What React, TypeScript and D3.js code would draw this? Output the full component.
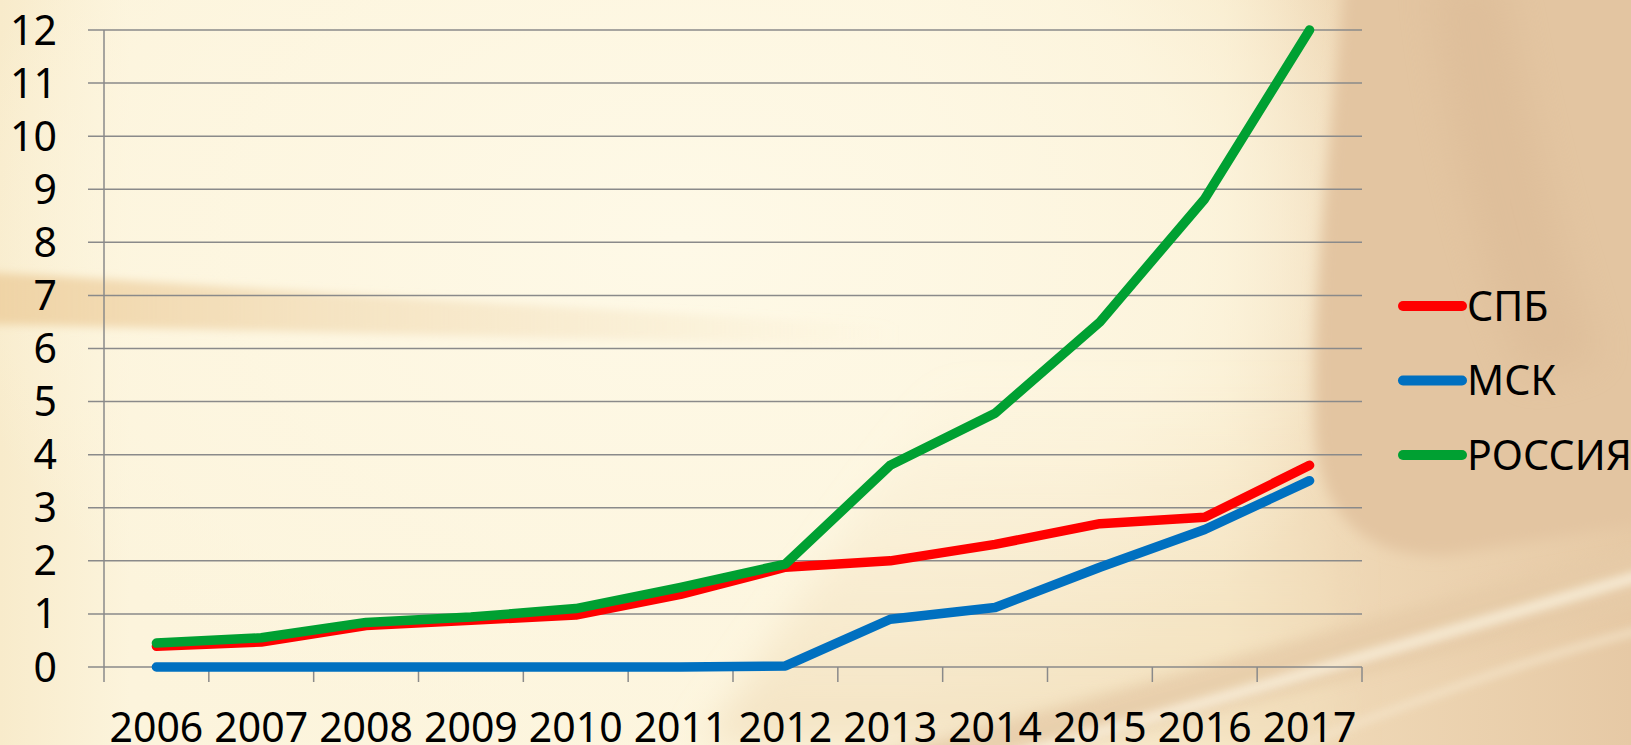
import React from "react";
import * as d3 from "d3";

// chart data
const years = ["2006", "2007", "2008", "2009", "2010", "2011", "2012", "2013", "2014", "2015", "2016", "2017"];
const spbValues = [0.39, 0.47, 0.78, 0.88, 0.98, 1.37, 1.88, 2.0, 2.31, 2.7, 2.82, 3.8];
const mskValues = [0, 0, 0, 0, 0, 0, 0.02, 0.9, 1.12, 1.88, 2.59, 3.51];
const russiaValues = [0.45, 0.55, 0.84, 0.94, 1.1, 1.5, 1.94, 3.8, 4.78, 6.5, 8.82, 12];
const yTicks = [0, 1, 2, 3, 4, 5, 6, 7, 8, 9, 10, 11, 12];
const seriesNames = ["СПБ", "МСК", "РОССИЯ"];
const seriesColors = ["#FF0000", "#0070C0", "#00A032"];

const W = 1631;
const H = 745;
const FONT = "'Noto Sans', sans-serif";

export default function App() {
  const x = d3.scaleBand<string>().domain(years).range([104, 1362]);
  const y = d3.scaleLinear().domain([0, 12]).range([667, 30]);

  const series = [spbValues, mskValues, russiaValues];
  const line = d3
    .line<number>()
    .x((_, i) => (x(years[i]) as number) + x.bandwidth() / 2)
    .y((d) => y(d));

  const grid = "#8A8A8A";
  const bottom = y(0);

  return (
    <svg
      width={W}
      height={H}
      viewBox={`0 0 ${W} ${H}`}
      style={{ position: "fixed", left: 0, top: 0, display: "block" }}
    >
      <defs>
        <linearGradient id="bgBase" x1="0" y1="0" x2="1" y2="0">
          <stop offset="0" stopColor="#F8EBCB" />
          <stop offset="0.08" stopColor="#FCF4DC" />
          <stop offset="0.55" stopColor="#FDF6DF" />
          <stop offset="0.75" stopColor="#F8EACB" />
          <stop offset="0.82" stopColor="#EFD8B6" />
          <stop offset="1" stopColor="#E6C9A5" />
        </linearGradient>
        <radialGradient id="creamGlow" cx="0.5" cy="0.5" r="0.5">
          <stop offset="0" stopColor="#FEF9E7" stopOpacity="1" />
          <stop offset="0.7" stopColor="#FDF6E0" stopOpacity="0.8" />
          <stop offset="1" stopColor="#FDF6E0" stopOpacity="0" />
        </radialGradient>
        <linearGradient id="bandFade" x1="0" y1="0" x2="1" y2="0">
          <stop offset="0" stopColor="#EED0A0" stopOpacity="0.9" />
          <stop offset="0.35" stopColor="#EFD5AA" stopOpacity="0.6" />
          <stop offset="1" stopColor="#F1DAB0" stopOpacity="0" />
        </linearGradient>
        <linearGradient id="lowWarm" x1="0" y1="0" x2="0" y2="1">
          <stop offset="0" stopColor="#F4E2C0" stopOpacity="0" />
          <stop offset="1" stopColor="#F0DCB8" stopOpacity="0.7" />
        </linearGradient>
        <filter id="blur20" x="-20%" y="-20%" width="140%" height="140%">
          <feGaussianBlur stdDeviation="18" />
        </filter>
        <filter id="blur8" x="-20%" y="-50%" width="140%" height="200%">
          <feGaussianBlur stdDeviation="7" />
        </filter>
        <filter id="blur4" x="-20%" y="-50%" width="140%" height="200%">
          <feGaussianBlur stdDeviation="4" />
        </filter>
      </defs>

      {/* background */}
      <rect x={0} y={0} width={W} height={H} fill="url(#bgBase)" />
      <ellipse cx={680} cy={240} rx={740} ry={520} fill="url(#creamGlow)" />
      <path d="M950,380 L1340,380 L1340,745 L700,745 Z" fill="url(#lowWarm)" filter="url(#blur20)" />
      <path
        d="M1345,-20 C1330,150 1310,300 1315,430 C1320,520 1370,560 1450,555 L1660,520 L1660,-20 Z"
        fill="#E3C5A1"
        filter="url(#blur8)"
      />
      <path
        d="M1430,-20 C1445,120 1475,260 1525,380 L1600,360 C1560,240 1525,100 1505,-20 Z"
        fill="#D8B692"
        opacity={0.4}
        filter="url(#blur20)"
      />
      <path
        d="M-20,272 C150,280 400,300 900,325 L900,345 C500,338 250,330 -20,324 Z"
        fill="url(#bandFade)"
        filter="url(#blur4)"
      />
      <path
        d="M850,760 C1100,700 1320,630 1660,540 L1660,600 C1380,670 1150,730 950,770 Z"
        fill="#E6CBA7"
        opacity={0.8}
        filter="url(#blur8)"
      />
      <path
        d="M980,765 C1220,700 1420,640 1660,570"
        fill="none"
        stroke="#F8EDD8"
        strokeWidth={12}
        opacity={0.85}
        filter="url(#blur4)"
      />
      <path
        d="M1300,745 C1420,700 1520,660 1660,625"
        fill="none"
        stroke="#F5E6CC"
        strokeWidth={8}
        opacity={0.7}
        filter="url(#blur4)"
      />

      {/* grid lines */}
      {yTicks.map((t) => (
        <line key={`g${t}`} x1={88} x2={1362} y1={y(t)} y2={y(t)} stroke={grid} strokeWidth={1.5} />
      ))}
      <line x1={104} x2={104} y1={y(12)} y2={bottom + 15} stroke={grid} strokeWidth={1.5} />
      {years.map((yr) => (
        <line
          key={`t${yr}`}
          x1={(x(yr) as number) + x.bandwidth()}
          x2={(x(yr) as number) + x.bandwidth()}
          y1={bottom}
          y2={bottom + 15}
          stroke={grid}
          strokeWidth={1.5}
        />
      ))}

      {/* y labels */}
      {yTicks.map((t) => (
        <text key={`l${t}`} x={57} y={y(t) + 14.5} textAnchor="end" fontFamily={FONT} fontSize={41} fill="#000">
          {t}
        </text>
      ))}

      {/* x labels */}
      {years.map((yr) => (
        <text
          key={`x${yr}`}
          x={(x(yr) as number) + x.bandwidth() / 2}
          y={742}
          textAnchor="middle"
          fontFamily={FONT}
          fontSize={41}
          fill="#000"
        >
          {yr}
        </text>
      ))}

      {/* series */}
      {series.map((vals, i) => (
        <path
          key={seriesNames[i]}
          d={line(vals) || ""}
          fill="none"
          stroke={seriesColors[i]}
          strokeWidth={9.5}
          strokeLinecap="round"
          strokeLinejoin="round"
        />
      ))}

      {/* legend */}
      {seriesNames.map((name, i) => {
        const ly = 306 + i * 74.5;
        return (
          <g key={`lg${name}`}>
            <line x1={1403} x2={1462} y1={ly} y2={ly} stroke={seriesColors[i]} strokeWidth={10} strokeLinecap="round" />
            <text x={1467} y={ly + 14.5} fontFamily={FONT} fontSize={41} fill="#000">
              {name}
            </text>
          </g>
        );
      })}
    </svg>
  );
}
